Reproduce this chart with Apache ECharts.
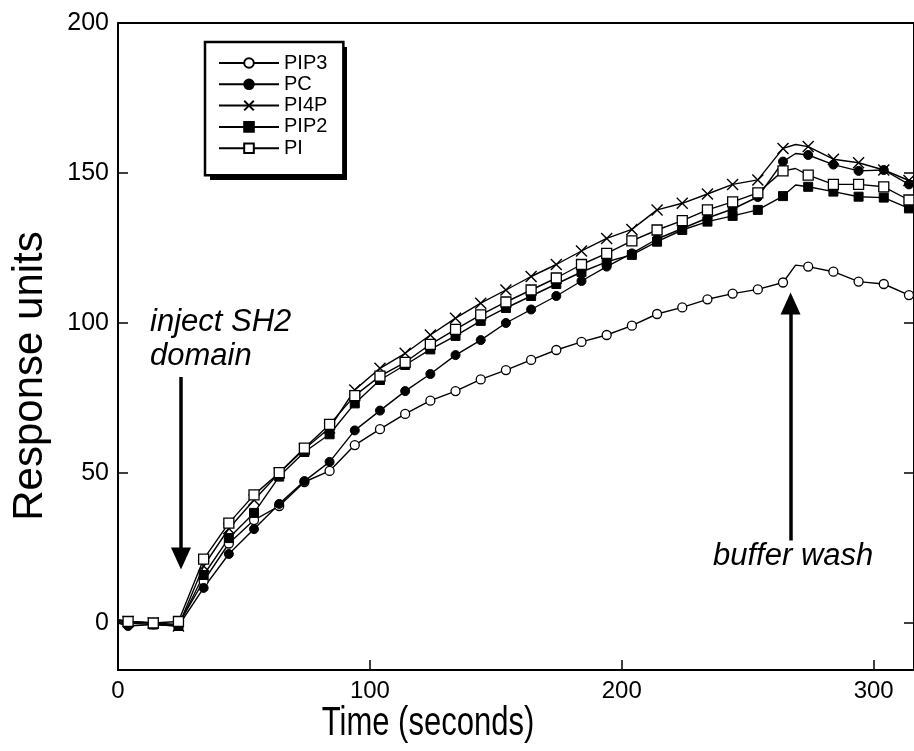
<!DOCTYPE html>
<html>
<head>
<meta charset="utf-8">
<script src="https://cdn.jsdelivr.net/npm/echarts@6/dist/echarts.min.js"></script>
<style>
html,body{margin:0;padding:0;background:#fff;}
#chart{width:914px;height:751px;}
</style>
</head>
<body>
<div id="chart"></div>
<script>
// Time (seconds) of each sample
const times = [0,4,14,24,34,44,54,64,74,84,94,104,114,124,134,144,154,164,174,184,194,204,214,224,234,244,254,264,269,274,284,294,304,314,320];
// Response units
const pip3 = [1,0.5,0,-0.5,14,26.5,34.3,39,47,50.7,59.3,64.6,69.7,74.1,77.3,81.2,84.3,87.7,91,93.7,96,99.1,103,105.2,107.9,109.8,111.2,113.5,119.3,118.8,117.1,113.8,113,109.3,108.5];
const pc   = [0,-1,-0.5,-1,11.7,23,31.3,39.7,47.3,53.7,64.2,70.8,77.3,83,89.3,94.3,100,104.5,109,114,118.8,123.2,128,131.5,135,138,142,153.8,156.5,156,152.8,150.7,151,146.2,146];
const pi4p = [1,0.5,0,-1,19,31.5,41,50,58,65,77.7,84.9,89.9,96,101.6,106.6,111,115.5,119.5,124,128.2,131.2,137.7,139.9,143,146.2,147.7,158.2,159.5,158.8,154.6,153.4,151,147.5,147];
const pip2 = [0.5,0,-0.5,-1,16,28.3,36.7,48.8,57,62.9,73.2,81,86,91.2,95.7,100.7,105,109,113,117,120.4,122.7,127.1,131,133.8,135.7,137.7,142.3,146,145.4,143.8,142.1,141.8,138.2,137.5];
const pi   = [1,0.5,0,0.5,21.3,33.3,42.7,50.1,58.3,66.2,75.8,82.3,86.9,92.9,97.9,102.7,107,111,115,119.5,123.2,127.4,131,134.1,137.7,140.4,143.4,150.7,151.5,149.3,146.2,146.2,145.4,141,140.5];
const seriesNames = ['PIP3','PC','PI4P','PIP2','PI'];
const xTicks = [0,100,200,300];
const yTicks = [0,50,100,150,200];
// annotation arrows: [x, yFrom, yTo]
const injectArrow = [25, 82, 21.5];
const washArrow = [267, 27.5, 106.5];

const FONT = "'Liberation Sans', Arial, Helvetica, sans-serif";

function build(vals){
  return times.map((t,i)=>{
    const marker = ((t-4) % 10) === 0;
    return marker ? [t, vals[i]] : {value:[t, vals[i]], symbol:'none'};
  });
}
const styles = {
  'PIP3': {symbol:'circle', symbolSize:9, itemStyle:{color:'#fff', borderColor:'#000', borderWidth:1.3}},
  'PC':   {symbol:'circle', symbolSize:9, itemStyle:{color:'#000', borderColor:'#000', borderWidth:1}},
  'PI4P': {symbol:'path://M0,0L10,10M0,10L10,0', symbolSize:11, itemStyle:{color:'none', borderColor:'#000', borderWidth:1.4}},
  'PIP2': {symbol:'rect', symbolSize:9, itemStyle:{color:'#000', borderColor:'#000', borderWidth:1}},
  'PI':   {symbol:'rect', symbolSize:10, itemStyle:{color:'#fff', borderColor:'#000', borderWidth:1.3}}
};
const valsByName = {PIP3:pip3, PC:pc, PI4P:pi4p, PIP2:pip2, PI:pi};

const series = seriesNames.map(n => Object.assign({
  name:n, type:'line', data:build(valsByName[n]),
  showSymbol:true, showAllSymbol:true, animation:false,
  lineStyle:{color:'#000', width:1.4},
  emphasis:{disabled:true}, z:3
}, styles[n]));

series.push({
  type:'line', data:[], silent:true, animation:false,
  markLine:{
    silent:true, animation:false,
    symbol:['none','triangle'], symbolSize:[20,22],
    label:{show:false},
    lineStyle:{color:'#000', width:3.5, type:'solid'},
    emphasis:{disabled:true},
    data:[
      [{coord:[injectArrow[0], injectArrow[1]]},{coord:[injectArrow[0], injectArrow[2]]}],
      [{coord:[washArrow[0], washArrow[1]]},{coord:[washArrow[0], washArrow[2]]}]
    ]
  }
});

const chart = echarts.init(document.getElementById('chart'), null, {renderer:'canvas'});
const xMin = 0, xMax = 316, yMin = -15.67, yMax = 200;
chart.setOption({
  animation:false,
  backgroundColor:'#fff',
  grid:{left:118, top:23, right:-4, bottom:81, containLabel:false},
  legend:{
    data:seriesNames, orient:'vertical', left:205, top:42, z:10,
    padding:[11,16,17,13], itemGap:1.3, itemWidth:60, itemHeight:12,
    backgroundColor:'#fff', borderColor:'#000', borderWidth:2.5,
    textStyle:{fontFamily:FONT, fontSize:20, color:'#000', lineHeight:20},
    selectedMode:false
  },
  xAxis:[{
    type:'value', min:xMin, max:xMax, position:'bottom',
    axisLine:{show:true, onZero:false, lineStyle:{color:'#000', width:2}},
    axisTick:{show:true, inside:true, length:10, customValues:xTicks, lineStyle:{color:'#000', width:1.5}},
    axisLabel:{customValues:xTicks, fontFamily:FONT, fontSize:24, color:'#000', margin:9},
    splitLine:{show:false}
  },{
    type:'value', min:xMin, max:xMax, position:'top',
    axisLine:{show:true, onZero:false, lineStyle:{color:'#000', width:2}},
    axisTick:{show:false}, axisLabel:{show:false}, splitLine:{show:false}
  }],
  yAxis:[{
    type:'value', min:yMin, max:yMax, position:'left',
    axisLine:{show:true, onZero:false, lineStyle:{color:'#000', width:2}},
    axisTick:{show:true, inside:true, length:10, customValues:yTicks, lineStyle:{color:'#000', width:1.5}},
    axisLabel:{customValues:yTicks, fontFamily:FONT, fontSize:25, color:'#000', margin:9},
    splitLine:{show:false}
  },{
    type:'value', min:yMin, max:yMax, position:'right',
    axisLine:{show:true, onZero:false, lineStyle:{color:'#000', width:2}},
    axisTick:{show:true, inside:true, length:10, customValues:[0,50,100,150], lineStyle:{color:'#000', width:1.5}},
    axisLabel:{show:false}, splitLine:{show:false}
  }],
  graphic:[
    {type:'rect', left:210, top:47, z:5, silent:true, shape:{width:137, height:133}, style:{fill:'#000'}},
    {type:'text', left:150, top:305, silent:true, style:{text:'inject SH2\ndomain', font:'italic 31px '+FONT, lineHeight:34, fill:'#000'}},
    {type:'text', left:713, top:541, silent:true, style:{text:'buffer wash', font:'italic 31px '+FONT, fill:'#000'}},
    {type:'text', x:428, y:724, scaleX:0.775, silent:true, style:{text:'Time (seconds)', font:'40px '+FONT, fill:'#000', align:'center', verticalAlign:'middle'}},
    {type:'text', x:30, y:376, rotation:Math.PI/2, silent:true, style:{text:'Response units', font:'42px '+FONT, fill:'#000', align:'center', verticalAlign:'middle'}}
  ],
  series:series
});
</script>
</body>
</html>
